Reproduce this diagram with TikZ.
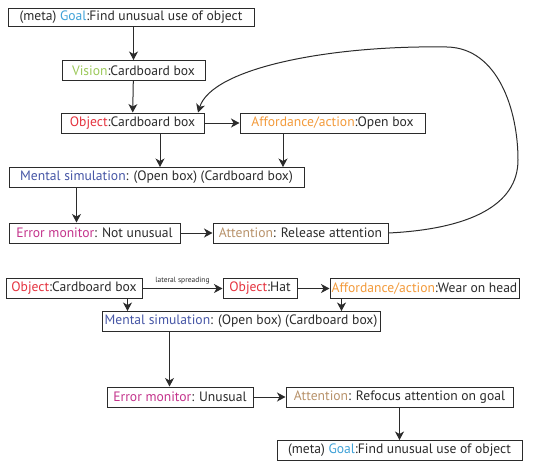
\documentclass[tikz,border=0pt]{standalone}
\usepackage{fontspec}
\setmainfont{PT Sans}
\usepackage{xcolor}
\usetikzlibrary{arrows.meta,positioning}

\definecolor{goalc}{HTML}{3FA2D8}
\definecolor{visionc}{HTML}{9CC95A}
\definecolor{objc}{HTML}{E5333F}
\definecolor{affc}{HTML}{F39A3A}
\definecolor{mentc}{HTML}{4656A6}
\definecolor{errc}{HTML}{C4348C}
\definecolor{attc}{HTML}{B8926A}
\definecolor{txt}{HTML}{2B2B2B}

\newcommand{\tag}[2]{\textcolor{#1}{#2}:}

\begin{document}
\begin{tikzpicture}[
      x=1pt, y=-1pt,
      font=\fontsize{13.6}{16}\selectfont, text=txt,
      box/.style={rectangle, draw=txt, line width=1pt, fill=white, minimum height=20pt, inner sep=1pt, align=center},
      arrow/.style={-{Stealth[length=8.5pt,width=9pt,inset=2.5pt]}, line width=1pt, draw=txt},
      small/.style={font=\fontsize{7.5}{8}\selectfont}
    ]
    \useasboundingbox (0,0) rectangle (555,464);

    % first attempt
    \node[box, minimum width=246pt, minimum height=18pt] (goal) at (131,17) {(meta) \tag{goalc}{Goal}Find unusual use of object};
    \node[box, minimum width=143pt] (vision) at (133.5,70.5) {\tag{visionc}{Vision}Cardboard box};
    \node[box, minimum width=143pt] (obj) at (132.5,123) {\tag{objc}{Object}Cardboard box};
    \node[box, minimum width=185pt] (aff) at (332.5,123) {\tag{affc}{Affordance/action}Open box};
    \node[box, minimum width=295pt] (ment) at (156.5,177.5) {\tag{mentc}{Mental simulation} (Open box) (Cardboard box)};
    \node[box, minimum width=171pt] (err) at (94.5,233) {\tag{errc}{Error monitor} Not unusual};
    \node[box, minimum width=175pt] (att) at (300.5,233) {\tag{attc}{Attention} Release attention};

    % second attempt
    \node[box, minimum width=136pt] (obj2) at (74,288.5) {\tag{objc}{Object}Cardboard box};
    \node[box, minimum width=74pt] (hat) at (260,288.5) {\tag{objc}{Object}Hat};
    \node[box, minimum width=189pt] (aff2) at (424.5,288.5) {\tag{affc}{Affordance/action}Wear on head};
    \node[box, minimum width=278pt] (ment2) at (241,321.5) {\tag{mentc}{Mental simulation} (Open box) (Cardboard box)};
    \node[box, minimum width=146pt] (err2) at (180,397) {\tag{errc}{Error monitor} Unusual};
    \node[box, minimum width=227pt] (att2) at (399.5,397) {\tag{attc}{Attention} Refocus attention on goal};
    \node[box, minimum width=245pt] (goal2) at (399.5,450.5) {(meta) \tag{goalc}{Goal}Find unusual use of object};

    \draw[arrow] (goal.south -| vision) -- (vision);
    \draw[arrow] (vision) -- (obj);
    \draw[arrow] (obj) -- (aff);
    \draw[arrow] ([xshift=27.5pt]obj.south) -- ([xshift=27.5pt]obj.south |- ment.north);
    \draw[arrow] ([xshift=-49.5pt]aff.south) -- ([xshift=-49.5pt]aff.south |- ment.north);
    \draw[arrow] ([xshift=68pt]ment.south west) -- ([xshift=68pt]ment.south west |- err.north);
    \draw[arrow] (err) -- (att);
    \draw[arrow] (att.east) .. controls (470,229) and (518,205) .. (518,160)
      .. controls (518,110) and (498,48) .. (447,47)
      .. controls (330,45) and (212,68) .. ([xshift=65.5pt]obj.north);

    \draw[arrow] (obj2) -- (hat) node[midway, above=1pt, small] {lateral spreading};
    \draw[arrow] (hat) -- (aff2);
    \draw[arrow] ([xshift=26pt]ment2.north west |- obj2.south) -- ([xshift=26pt]ment2.north west);
    \draw[arrow] ([xshift=12pt]aff2.south west) -- ([xshift=12pt]aff2.south west |- ment2.north);
    \draw[arrow] ([xshift=68pt]ment2.south west) -- ([xshift=68pt]ment2.south west |- err2.north);
    \draw[arrow] (err2) -- (att2);
    \draw[arrow] (att2) -- (goal2);
  \end{tikzpicture}
\end{document}
